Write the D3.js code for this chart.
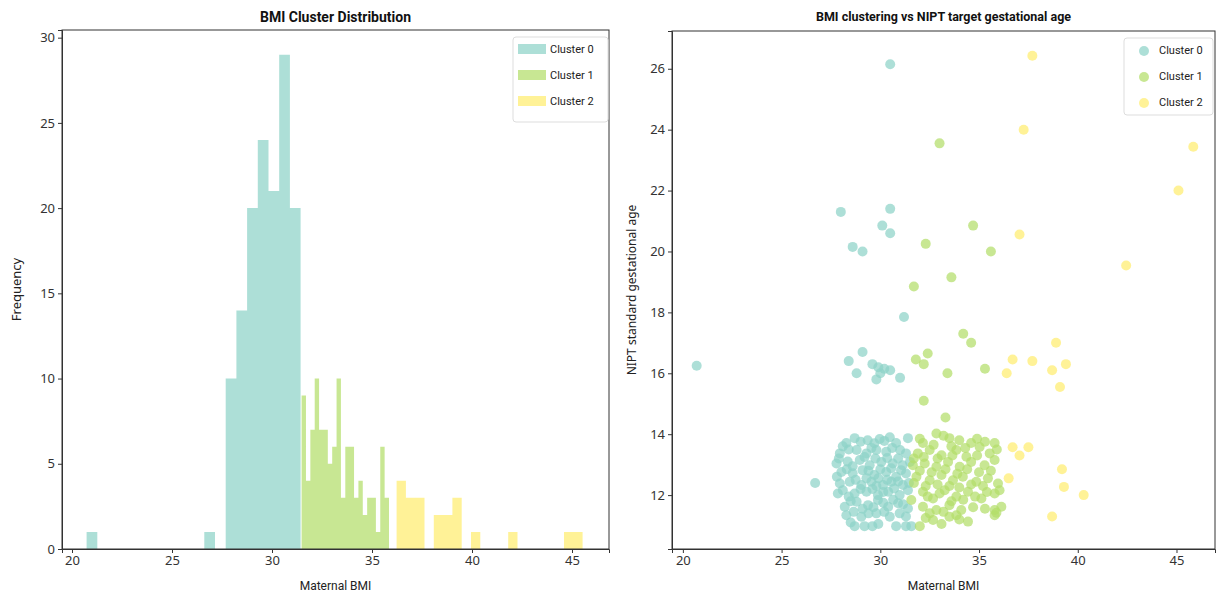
<!DOCTYPE html>
<html>
<head>
<meta charset="utf-8">
<script src="https://cdn.jsdelivr.net/npm/d3@7"></script>
<style>
  body { margin: 0; background: #fff; }
  .tick text { font-family: "Noto Sans", "Open Sans", sans-serif; font-size: 13px; fill: #333; }
  .tick line, .domain { stroke: #333; }
  .title { font-family: Roboto, sans-serif; font-weight: bold; fill: #111; }
  .lab { font-family: Roboto, sans-serif; font-size: 12px; fill: #222; }
  .leg { font-family: Roboto, sans-serif; font-size: 11px; fill: #222; }
</style>
</head>
<body>
<svg width="1216" height="594"></svg>
<script>
var clusters = ['Cluster 0', 'Cluster 1', 'Cluster 2'];
var colors = ['#8dd3c7', '#b3de69', '#ffed6f'];

// histogram bins: start, width, counts per cluster
var binStart = [20.73, 31.48, 36.23];
var binWidth = [0.535, 0.2185, 0.465];
var counts0 = [1,0,0,0,0,0,0,0,0,0,0,1,0,10,14,20,24,21,29,20];
var counts1 = [9,4,7,10,7,7,5,6,10,3,6,6,3,4,2,3,3,1,6,3];
var counts2 = [4,3,3,0,2,2,3,0,1,0,0,0,1,0,0,0,0,0,1,1];

var xTicks = [20, 25, 30, 35, 40, 45];
var yTicksHist = [0, 5, 10, 15, 20, 25, 30];
var yTicksScatter = [12, 14, 16, 18, 20, 22, 24, 26];

// scatter: [BMI, gestational age]
var scatter0 = [
  [20.7,16.25],[30.5,26.15],[28.0,21.3],[30.5,21.4],[28.6,20.15],[29.1,20.0],[30.1,20.85],[30.5,20.6],[31.2,17.85],
  [28.4,16.4],[29.1,16.7],[28.8,16.0],[29.6,16.3],[30.0,16.0],[29.9,16.2],[30.2,16.15],[29.8,15.8],[30.5,16.1],[31.0,15.85],
  [26.7,12.4],
  [28.28,13.71],[28.7,13.87],[29.36,13.8],[29.97,13.84],[30.48,13.9],[30.8,13.71],[31.4,13.87],[29.0,13.75],[29.7,13.7],[30.2,13.78],
  [27.95,13.37],[28.8,13.48],[29.3,13.37],[29.8,13.48],[30.3,13.42],[31.0,13.48],[31.3,13.37],[28.4,13.5],[29.55,13.55],[30.6,13.55],[28.1,13.6],
  [27.78,13.04],[28.35,13.1],[28.96,13.15],[29.46,12.98],[30.05,13.09],[30.63,13.04],[31.13,12.98],[31.5,13.09],[28.6,12.95],[29.2,13.25],[29.75,13.2],[30.35,13.22],[30.9,13.2],[27.9,13.2],
  [28.03,12.76],[28.6,12.72],[29.1,12.82],[29.7,12.66],[30.3,12.76],[30.8,12.6],[31.3,12.71],[28.3,12.85],[29.4,12.8],[30.0,12.85],[30.55,12.88],[31.05,12.82],[27.8,12.6],[29.9,12.55],
  [27.95,12.38],[28.45,12.44],[29.04,12.33],[29.55,12.44],[30.14,12.33],[30.56,12.44],[31.15,12.33],[28.75,12.5],[29.3,12.55],[30.35,12.5],[30.9,12.45],[31.45,12.4],[29.8,12.3],
  [28.1,12.16],[28.7,12.05],[29.3,12.11],[29.88,12.0],[30.4,12.11],[30.98,12.0],[31.4,12.16],[28.4,11.95],[29.0,12.2],[29.6,12.2],[30.15,12.1],[30.7,12.22],[27.85,12.05],
  [28.2,11.62],[28.8,11.78],[29.38,11.67],[29.88,11.84],[30.4,11.62],[30.9,11.73],[31.4,11.56],[28.5,11.8],[29.1,11.55],[29.65,11.6],[30.15,11.75],[30.65,11.85],[31.15,11.7],
  [28.28,11.34],[29.04,11.29],[29.8,11.4],[30.48,11.29],[30.98,11.4],[28.65,11.45],[29.4,11.4],[30.2,11.45],[31.3,11.3],
  [28.7,10.98],[29.2,10.98],[29.6,10.98],[30.8,10.98],[31.3,10.98],[31.57,10.98],[28.5,11.1],[29.9,11.05]
];
var scatter1 = [
  [33.0,23.55],[34.7,20.85],[32.3,20.25],[35.6,20.0],[33.6,19.15],[31.7,18.85],[34.2,17.3],[34.6,17.0],
  [31.8,16.45],[32.2,16.3],[32.4,16.65],[33.4,16.0],[35.3,16.15],[32.2,15.1],[33.3,14.55],
  [32.16,13.71],[32.84,14.02],[33.5,13.87],[34.6,13.71],[35.03,13.58],[35.79,13.71],
  [31.9,13.37],[32.5,13.48],[33.1,13.31],[33.85,13.48],[34.36,13.26],[35.54,13.37],
  [31.65,12.98],[32.25,13.04],[32.84,12.93],[33.43,13.09],[34.02,12.93],[34.6,13.09],[35.28,12.98],[35.79,13.15],
  [31.83,12.6],[32.5,12.49],[33.1,12.66],[33.68,12.49],[34.18,12.6],[34.86,12.44],[35.45,12.55],[35.96,12.38],
  [31.57,11.84],[32.16,12.11],[32.67,11.89],[33.26,12.16],[33.85,11.95],[34.44,12.11],[35.12,11.89],[35.79,12.05],[36.04,12.16],
  [32.16,11.62],[32.84,11.51],[33.5,11.67],[34.1,11.51],[35.79,11.51],[36.13,11.62],
  [32.0,10.98],[32.67,11.18],[33.5,11.29],[33.85,11.34],[34.44,11.13],[35.79,11.34],[35.88,11.42],
  [32.0,13.85],[33.2,13.95],[34.0,13.8],[34.9,13.85],[32.7,13.65],[33.6,13.6],[34.3,13.55],[35.3,13.75],
  [32.2,13.25],[32.9,13.2],[33.65,13.3],[34.9,13.3],[35.9,13.5],[31.7,13.2],
  [32.0,12.8],[32.6,12.75],[33.3,12.85],[33.9,12.7],[34.4,12.85],[35.0,12.75],[35.6,12.8],
  [32.3,12.3],[32.9,12.35],[33.5,12.3],[34.0,12.25],[34.6,12.35],[35.2,12.3],[31.7,12.4],
  [32.4,11.95],[33.0,12.05],[33.6,11.8],[34.2,11.85],[34.8,11.95],[35.4,12.1],
  [32.5,11.4],[33.2,11.45],[34.7,11.6],[35.3,11.55],[34.0,11.2],[33.1,11.05],[32.3,11.25]
];
var scatter2 = [
  [37.7,26.43],[37.26,24.0],[45.85,23.44],[45.1,22.0],[37.05,20.56],[42.45,19.54],
  [38.9,17.0],[36.7,16.45],[37.7,16.4],[36.4,16.0],[38.7,16.1],[39.4,16.3],[39.1,15.55],
  [36.7,13.57],[37.5,13.57],[37.05,13.3],[39.2,12.85],[36.5,12.55],[39.3,12.27],[40.3,12.0],[38.7,11.3]
];

var svg = d3.select('svg');

// ---------- left: histogram ----------
var L = {left: 62, right: 609, top: 30, bottom: 549};
var xh = d3.scaleLinear().domain([19.5, 46.85]).range([L.left, L.right]);
var yh = d3.scaleLinear().domain([0, 30.45]).range([L.bottom, L.top]);

var histCounts = [counts0, counts1, counts2];
histCounts.forEach(function(cs, c) {
  var bins = cs.map(function(n, i) {
    return {x0: binStart[c] + i * binWidth[c], x1: binStart[c] + (i + 1) * binWidth[c], n: n};
  }).filter(function(d) { return d.n > 0; });
  // one path per cluster so neighbouring bars don't leave seams
  var path = d3.path();
  bins.forEach(function(d) {
    path.rect(xh(d.x0), yh(d.n), xh(d.x1) - xh(d.x0), yh(0) - yh(d.n));
  });
  svg.append('path').attr('d', path.toString())
    .attr('fill', colors[c])
    .attr('fill-opacity', 0.72)
    .attr('fill-rule', 'nonzero');
});

svg.append('g').attr('transform', 'translate(0,' + L.bottom + ')')
  .call(d3.axisBottom(xh).tickValues(xTicks).tickSize(4).tickPadding(3));
svg.append('g').attr('transform', 'translate(' + L.left + ',0)')
  .call(d3.axisLeft(yh).tickValues(yTicksHist).tickSize(4).tickPadding(3));
svg.append('rect').attr('x', L.left).attr('y', L.top)
  .attr('width', L.right - L.left).attr('height', L.bottom - L.top)
  .attr('fill', 'none').attr('stroke', '#333');

svg.append('text').attr('class', 'title').attr('x', (L.left + L.right) / 2).attr('y', 22)
  .attr('text-anchor', 'middle').style('font-size', '14px').text('BMI Cluster Distribution');
svg.append('text').attr('class', 'lab').attr('x', (L.left + L.right) / 2).attr('y', 590)
  .attr('text-anchor', 'middle').text('Maternal BMI');
svg.append('text').attr('class', 'lab').style('font-family', '"Noto Sans", sans-serif').style('font-size', '13px')
  .attr('transform', 'translate(21,' + (L.top + L.bottom) / 2 + ') rotate(-90)')
  .attr('text-anchor', 'middle').text('Frequency');

// legend (bars)
var lg = svg.append('g').attr('transform', 'translate(513,37)');
lg.append('rect').attr('width', 95).attr('height', 85).attr('rx', 3)
  .attr('fill', '#fff').attr('fill-opacity', 0.8).attr('stroke', '#ddd');
clusters.forEach(function(name, i) {
  lg.append('rect').attr('x', 5).attr('y', 7 + i * 26).attr('width', 28).attr('height', 10)
    .attr('fill', colors[i]).attr('fill-opacity', 0.72);
  lg.append('text').attr('class', 'leg').attr('x', 37).attr('y', 16 + i * 26).text(name);
});

// ---------- right: scatter ----------
var R = {left: 672, right: 1215, top: 31, bottom: 549};
var xs = d3.scaleLinear().domain([19.45, 46.95]).range([R.left, R.right]);
var ys = d3.scaleLinear().domain([10.23, 27.24]).range([R.bottom, R.top]);

[scatter0, scatter1, scatter2].forEach(function(pts, c) {
  svg.append('g').selectAll('circle').data(pts).enter()
    .append('circle')
    .attr('cx', function(d) { return xs(d[0]); })
    .attr('cy', function(d) { return ys(d[1]); })
    .attr('r', 5)
    .attr('fill', colors[c])
    .attr('fill-opacity', 0.72);
});

svg.append('g').attr('transform', 'translate(0,' + R.bottom + ')')
  .call(d3.axisBottom(xs).tickValues(xTicks).tickSize(4).tickPadding(3));
svg.append('g').attr('transform', 'translate(' + R.left + ',0)')
  .call(d3.axisLeft(ys).tickValues(yTicksScatter).tickSize(4).tickPadding(3));
svg.append('rect').attr('x', R.left).attr('y', R.top)
  .attr('width', R.right - R.left).attr('height', R.bottom - R.top)
  .attr('fill', 'none').attr('stroke', '#333');

svg.append('text').attr('class', 'title').attr('x', (R.left + R.right) / 2).attr('y', 21)
  .attr('text-anchor', 'middle').style('font-size', '12.5px').text('BMI clustering vs NIPT target gestational age');
svg.append('text').attr('class', 'lab').attr('x', (R.left + R.right) / 2).attr('y', 590)
  .attr('text-anchor', 'middle').text('Maternal BMI');
svg.append('text').attr('class', 'lab').style('font-family', '"Noto Sans", sans-serif')
  .attr('transform', 'translate(636,' + (R.top + R.bottom) / 2 + ') rotate(-90)')
  .attr('text-anchor', 'middle').text('NIPT standard gestational age');

var lg2 = svg.append('g').attr('transform', 'translate(1124,38)');
lg2.append('rect').attr('width', 89).attr('height', 77).attr('rx', 3)
  .attr('fill', '#fff').attr('fill-opacity', 0.8).attr('stroke', '#ddd');
clusters.forEach(function(name, i) {
  lg2.append('circle').attr('cx', 20).attr('cy', 13 + i * 26).attr('r', 5)
    .attr('fill', colors[i]).attr('fill-opacity', 0.72);
  lg2.append('text').attr('class', 'leg').attr('x', 35).attr('y', 16 + i * 26).text(name);
});
</script>
</body>
</html>
